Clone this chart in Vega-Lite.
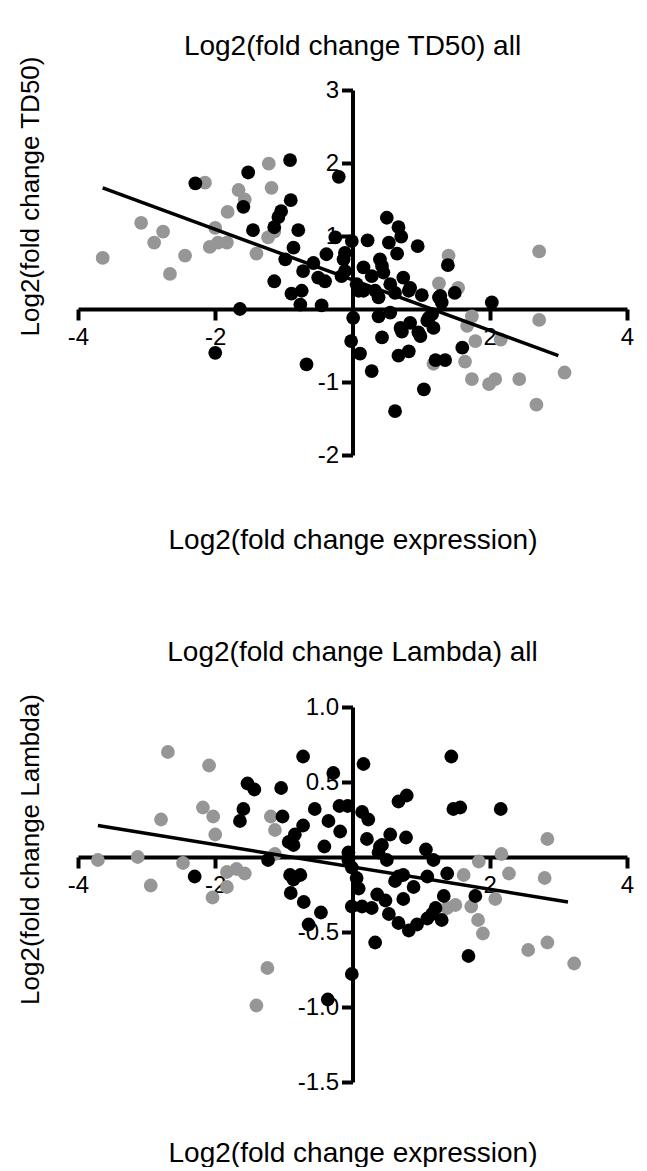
{
  "$schema": "https://vega.github.io/schema/vega-lite/v6.json",
  "autosize": {"type": "pad"},
  "padding": {"left": 17, "top": 32, "right": 0, "bottom": 0},
  "background": "white",
  "bounds": "flush",
  "spacing": 252,
  "resolve": {"scale": {"x": "independent", "y": "independent"}},
  "config": {
    "view": {"stroke": null},
    "font": "Liberation Sans",
    "axis": {
      "grid": false,
      "domainColor": "black",
      "domainWidth": 4,
      "tickColor": "black",
      "tickWidth": 4,
      "tickSize": 11,
      "labelFont": "Liberation Sans",
      "labelFontSize": 24,
      "labelColor": "black",
      "labelOverlap": false,
      "labelFlush": false,
      "labelExpr": "replace(datum.label, '\u2212', '-')",
      "titleFont": "Liberation Sans",
      "titleFontSize": 28,
      "titleFontWeight": "normal",
      "titleColor": "black"
    },
    "axisX": {"labelPadding": 5},
    "axisY": {"labelPadding": 3},
    "title": {"font": "Liberation Sans", "fontSize": 28, "fontWeight": "normal", "color": "black"}
  },
  "datasets": {
    "td50": [
      {"x": -3.64, "y": 0.70, "s": "no"}, {"x": -3.08, "y": 1.18, "s": "no"}, {"x": -2.76, "y": 1.06, "s": "no"},
      {"x": -2.89, "y": 0.91, "s": "no"}, {"x": -2.66, "y": 0.48, "s": "no"}, {"x": -2.44, "y": 0.73, "s": "no"},
      {"x": -2.15, "y": 1.73, "s": "no"}, {"x": -2.08, "y": 0.85, "s": "no"}, {"x": -2.00, "y": 1.11, "s": "no"},
      {"x": -1.96, "y": 0.91, "s": "no"}, {"x": -1.83, "y": 0.91, "s": "no"}, {"x": -1.82, "y": 1.33, "s": "no"},
      {"x": -1.66, "y": 1.63, "s": "no"}, {"x": -1.57, "y": 1.50, "s": "no"}, {"x": -1.40, "y": 0.76, "s": "no"},
      {"x": -1.22, "y": 1.99, "s": "no"}, {"x": -1.18, "y": 1.66, "s": "no"}, {"x": -1.23, "y": 0.98, "s": "no"},
      {"x": -1.14, "y": 1.06, "s": "no"}, {"x": 1.40, "y": 0.73, "s": "no"}, {"x": 1.26, "y": 0.35, "s": "no"},
      {"x": 1.54, "y": 0.29, "s": "no"}, {"x": 2.72, "y": 0.79, "s": "no"}, {"x": 1.74, "y": -0.10, "s": "no"},
      {"x": 1.67, "y": -0.23, "s": "no"}, {"x": 1.79, "y": -0.44, "s": "no"}, {"x": 2.16, "y": -0.42, "s": "no"},
      {"x": 2.72, "y": -0.15, "s": "no"}, {"x": 1.18, "y": -0.75, "s": "no"}, {"x": 1.64, "y": -0.72, "s": "no"},
      {"x": 1.74, "y": -0.96, "s": "no"}, {"x": 1.99, "y": -1.03, "s": "no"}, {"x": 2.08, "y": -0.96, "s": "no"},
      {"x": 2.43, "y": -0.96, "s": "no"}, {"x": 3.09, "y": -0.87, "s": "no"}, {"x": 2.68, "y": -1.31, "s": "no"},
      {"x": -2.29, "y": 1.72, "s": "yes"}, {"x": -1.52, "y": 1.87, "s": "yes"}, {"x": -0.91, "y": 2.04, "s": "yes"},
      {"x": -0.20, "y": 1.81, "s": "yes"}, {"x": -1.59, "y": 1.40, "s": "yes"}, {"x": -0.90, "y": 1.49, "s": "yes"},
      {"x": -1.04, "y": 1.34, "s": "yes"}, {"x": -1.08, "y": 1.26, "s": "yes"}, {"x": -1.14, "y": 1.12, "s": "yes"},
      {"x": -1.45, "y": 1.08, "s": "yes"}, {"x": -0.79, "y": 1.08, "s": "yes"}, {"x": -0.86, "y": 0.84, "s": "yes"},
      {"x": -0.98, "y": 0.68, "s": "yes"}, {"x": -1.14, "y": 0.38, "s": "yes"}, {"x": -0.72, "y": 0.52, "s": "yes"},
      {"x": -0.57, "y": 0.63, "s": "yes"}, {"x": -0.50, "y": 0.43, "s": "yes"}, {"x": -0.40, "y": 0.38, "s": "yes"},
      {"x": -0.89, "y": 0.21, "s": "yes"}, {"x": -0.74, "y": 0.25, "s": "yes"}, {"x": -0.76, "y": 0.06, "s": "yes"},
      {"x": -0.45, "y": 0.05, "s": "yes"}, {"x": -1.64, "y": 0.00, "s": "yes"}, {"x": -2.00, "y": -0.60, "s": "yes"},
      {"x": -0.67, "y": -0.76, "s": "yes"}, {"x": -0.38, "y": 0.75, "s": "yes"}, {"x": -0.25, "y": 0.98, "s": "yes"},
      {"x": -0.13, "y": 0.68, "s": "yes"}, {"x": -0.16, "y": 0.45, "s": "yes"}, {"x": -0.01, "y": 0.93, "s": "yes"},
      {"x": -0.11, "y": 0.77, "s": "yes"}, {"x": -0.11, "y": 0.52, "s": "yes"}, {"x": 0.50, "y": 1.25, "s": "yes"},
      {"x": 0.67, "y": 1.12, "s": "yes"}, {"x": 0.71, "y": 0.99, "s": "yes"}, {"x": 0.22, "y": 0.94, "s": "yes"},
      {"x": 0.53, "y": 0.91, "s": "yes"}, {"x": 0.65, "y": 0.76, "s": "yes"}, {"x": 0.95, "y": 0.86, "s": "yes"},
      {"x": 0.40, "y": 0.68, "s": "yes"}, {"x": 0.43, "y": 0.59, "s": "yes"}, {"x": 0.16, "y": 0.57, "s": "yes"},
      {"x": 0.74, "y": 0.43, "s": "yes"}, {"x": 0.84, "y": 0.29, "s": "yes"}, {"x": 1.01, "y": 0.19, "s": "yes"},
      {"x": 1.39, "y": 0.60, "s": "yes"}, {"x": 1.49, "y": 0.22, "s": "yes"}, {"x": 1.28, "y": 0.18, "s": "yes"},
      {"x": 2.03, "y": 0.09, "s": "yes"}, {"x": 0.09, "y": 0.25, "s": "yes"}, {"x": 0.45, "y": 0.50, "s": "yes"},
      {"x": 0.28, "y": 0.45, "s": "yes"}, {"x": 0.06, "y": 0.34, "s": "yes"}, {"x": 0.16, "y": 0.25, "s": "yes"},
      {"x": 0.33, "y": 0.25, "s": "yes"}, {"x": 0.38, "y": 0.16, "s": "yes"}, {"x": 0.55, "y": 0.34, "s": "yes"},
      {"x": 0.62, "y": 0.22, "s": "yes"}, {"x": 0.82, "y": 0.25, "s": "yes"}, {"x": 1.26, "y": 0.16, "s": "yes"},
      {"x": 1.30, "y": 0.09, "s": "yes"}, {"x": 0.01, "y": -0.12, "s": "yes"}, {"x": 0.38, "y": -0.10, "s": "yes"},
      {"x": 0.55, "y": -0.05, "s": "yes"}, {"x": 0.84, "y": -0.19, "s": "yes"}, {"x": 1.11, "y": -0.12, "s": "yes"},
      {"x": 0.72, "y": -0.31, "s": "yes"}, {"x": 0.99, "y": -0.37, "s": "yes"}, {"x": -0.02, "y": -0.44, "s": "yes"},
      {"x": 0.43, "y": -0.39, "s": "yes"}, {"x": 0.11, "y": -0.61, "s": "yes"}, {"x": 0.67, "y": -0.64, "s": "yes"},
      {"x": 0.82, "y": -0.58, "s": "yes"}, {"x": 1.60, "y": -0.53, "s": "yes"}, {"x": 1.21, "y": -0.70, "s": "yes"},
      {"x": 1.35, "y": -0.70, "s": "yes"}, {"x": 0.28, "y": -0.85, "s": "yes"}, {"x": 1.04, "y": -1.10, "s": "yes"},
      {"x": 0.62, "y": -1.40, "s": "yes"}, {"x": 0.70, "y": -0.26, "s": "yes"}, {"x": 0.96, "y": -0.32, "s": "yes"},
      {"x": 1.18, "y": -0.26, "s": "yes"}, {"x": 1.09, "y": -0.16, "s": "yes"}, {"x": 1.16, "y": -0.07, "s": "yes"}
    ],
    "td50fit": [{"x": -3.64, "y": 1.66}, {"x": 3.0, "y": -0.64}],
    "lambda": [
      {"x": -2.69, "y": 0.70, "s": "no"}, {"x": -2.09, "y": 0.61, "s": "no"}, {"x": -2.79, "y": 0.25, "s": "no"},
      {"x": -2.18, "y": 0.33, "s": "no"}, {"x": -2.03, "y": 0.27, "s": "no"}, {"x": -2.00, "y": 0.15, "s": "no"},
      {"x": -3.71, "y": -0.02, "s": "no"}, {"x": -3.13, "y": 0.00, "s": "no"}, {"x": -2.47, "y": -0.04, "s": "no"},
      {"x": -2.94, "y": -0.19, "s": "no"}, {"x": -1.83, "y": -0.10, "s": "no"}, {"x": -1.69, "y": -0.08, "s": "no"},
      {"x": -1.57, "y": -0.11, "s": "no"}, {"x": -1.83, "y": -0.20, "s": "no"}, {"x": -2.04, "y": -0.27, "s": "no"},
      {"x": -1.19, "y": 0.27, "s": "no"}, {"x": -1.13, "y": 0.18, "s": "no"}, {"x": -1.13, "y": 0.02, "s": "no"},
      {"x": -1.24, "y": -0.74, "s": "no"}, {"x": -1.40, "y": -0.99, "s": "no"}, {"x": 2.84, "y": 0.12, "s": "no"},
      {"x": 2.17, "y": 0.02, "s": "no"}, {"x": 1.84, "y": -0.03, "s": "no"}, {"x": 1.62, "y": -0.12, "s": "no"},
      {"x": 2.28, "y": -0.11, "s": "no"}, {"x": 2.80, "y": -0.14, "s": "no"}, {"x": 2.08, "y": -0.28, "s": "no"},
      {"x": 1.38, "y": -0.34, "s": "no"}, {"x": 1.50, "y": -0.32, "s": "no"}, {"x": 1.73, "y": -0.33, "s": "no"},
      {"x": 1.83, "y": -0.42, "s": "no"}, {"x": 1.90, "y": -0.51, "s": "no"}, {"x": 2.56, "y": -0.62, "s": "no"},
      {"x": 2.84, "y": -0.57, "s": "no"}, {"x": 3.23, "y": -0.71, "s": "no"},
      {"x": -0.72, "y": 0.67, "s": "yes"}, {"x": -0.28, "y": 0.56, "s": "yes"}, {"x": -1.53, "y": 0.49, "s": "yes"},
      {"x": -1.43, "y": 0.45, "s": "yes"}, {"x": -1.04, "y": 0.46, "s": "yes"}, {"x": -1.59, "y": 0.32, "s": "yes"},
      {"x": -1.64, "y": 0.24, "s": "yes"}, {"x": -1.02, "y": 0.27, "s": "yes"}, {"x": -0.55, "y": 0.32, "s": "yes"},
      {"x": -0.19, "y": 0.34, "s": "yes"}, {"x": -0.07, "y": 0.34, "s": "yes"}, {"x": -0.35, "y": 0.24, "s": "yes"},
      {"x": -0.18, "y": 0.17, "s": "yes"}, {"x": -0.72, "y": 0.21, "s": "yes"}, {"x": -0.84, "y": 0.15, "s": "yes"},
      {"x": -0.93, "y": 0.10, "s": "yes"}, {"x": -0.86, "y": 0.08, "s": "yes"}, {"x": -0.41, "y": 0.07, "s": "yes"},
      {"x": -1.23, "y": -0.02, "s": "yes"}, {"x": -2.30, "y": -0.13, "s": "yes"}, {"x": -0.91, "y": -0.12, "s": "yes"},
      {"x": -0.76, "y": -0.12, "s": "yes"}, {"x": -0.86, "y": -0.15, "s": "yes"}, {"x": -0.90, "y": -0.24, "s": "yes"},
      {"x": -0.71, "y": -0.30, "s": "yes"}, {"x": -0.46, "y": -0.37, "s": "yes"}, {"x": -0.64, "y": -0.45, "s": "yes"},
      {"x": -0.01, "y": -0.33, "s": "yes"}, {"x": -0.01, "y": -0.78, "s": "yes"}, {"x": -0.36, "y": -0.95, "s": "yes"},
      {"x": -0.06, "y": -0.02, "s": "yes"}, {"x": -0.01, "y": -0.07, "s": "yes"}, {"x": 1.44, "y": 0.67, "s": "yes"},
      {"x": 0.16, "y": 0.62, "s": "yes"}, {"x": 0.67, "y": 0.37, "s": "yes"}, {"x": 0.79, "y": 0.41, "s": "yes"},
      {"x": 1.47, "y": 0.32, "s": "yes"}, {"x": 1.57, "y": 0.33, "s": "yes"}, {"x": 2.16, "y": 0.32, "s": "yes"},
      {"x": 0.14, "y": 0.30, "s": "yes"}, {"x": 0.23, "y": 0.25, "s": "yes"}, {"x": 0.21, "y": 0.12, "s": "yes"},
      {"x": 0.43, "y": 0.08, "s": "yes"}, {"x": 0.55, "y": 0.15, "s": "yes"}, {"x": 0.78, "y": 0.13, "s": "yes"},
      {"x": 0.38, "y": 0.03, "s": "yes"}, {"x": 0.50, "y": -0.02, "s": "yes"}, {"x": -0.06, "y": 0.03, "s": "yes"},
      {"x": 1.07, "y": 0.05, "s": "yes"}, {"x": 1.18, "y": -0.02, "s": "yes"}, {"x": 0.06, "y": -0.14, "s": "yes"},
      {"x": 0.09, "y": -0.21, "s": "yes"}, {"x": 0.62, "y": -0.16, "s": "yes"}, {"x": 0.74, "y": -0.12, "s": "yes"},
      {"x": 0.89, "y": -0.20, "s": "yes"}, {"x": 1.09, "y": -0.13, "s": "yes"}, {"x": 1.38, "y": -0.11, "s": "yes"},
      {"x": 0.74, "y": -0.28, "s": "yes"}, {"x": 0.36, "y": -0.25, "s": "yes"}, {"x": 0.48, "y": -0.29, "s": "yes"},
      {"x": 0.14, "y": -0.33, "s": "yes"}, {"x": 0.28, "y": -0.34, "s": "yes"}, {"x": 0.53, "y": -0.38, "s": "yes"},
      {"x": 0.67, "y": -0.44, "s": "yes"}, {"x": 0.82, "y": -0.49, "s": "yes"}, {"x": 0.94, "y": -0.45, "s": "yes"},
      {"x": 1.09, "y": -0.41, "s": "yes"}, {"x": 1.21, "y": -0.34, "s": "yes"}, {"x": 1.33, "y": -0.26, "s": "yes"},
      {"x": 1.30, "y": -0.42, "s": "yes"}, {"x": 1.79, "y": -0.26, "s": "yes"}, {"x": 0.33, "y": -0.57, "s": "yes"},
      {"x": 1.69, "y": -0.66, "s": "yes"}, {"x": 1.16, "y": -0.38, "s": "yes"}, {"x": 0.40, "y": 0.07, "s": "yes"},
      {"x": 0.67, "y": -0.13, "s": "yes"}
    ],
    "lambdafit": [{"x": -3.71, "y": 0.21}, {"x": 3.14, "y": -0.30}]
  },
  "vconcat": [
    {
      "width": 549,
      "height": 365,
      "title": {"text": "Log2(fold change TD50) all", "frame": "group", "anchor": "middle", "baseline": "middle", "offset": -19},
      "encoding": {
        "x": {"field": "x", "type": "quantitative",
          "scale": {"domain": [-4, 4], "nice": false, "zero": false},
          "axis": {"orient": "bottom", "offset": -146, "values": [-4, -2, 2, 4],
            "title": "Log2(fold change expression)", "titleY": 231, "titleBaseline": "middle"}},
        "y": {"field": "y", "type": "quantitative",
          "scale": {"domain": [-2, 3], "nice": false, "zero": false},
          "axis": {"orient": "left", "offset": -274.5, "values": [-2, -1, 1, 2, 3],
            "title": "Log2(fold change TD50)", "titleX": -322, "titleY": 106, "titleFontSize": 26,
            "titleAngle": -90, "titleBaseline": "middle", "titleAlign": "center"}}
      },
      "layer": [
        {"data": {"name": "td50"}, "mark": {"type": "circle", "size": 190, "opacity": 1},
          "encoding": {"color": {"field": "s", "type": "nominal",
            "scale": {"domain": ["yes", "no"], "range": ["#000000", "#969696"]}, "legend": null}}},
        {"data": {"name": "td50fit"}, "mark": {"type": "line", "color": "black", "strokeWidth": 3.5}}
      ]
    },
    {
      "width": 549,
      "height": 375,
      "title": {"text": "Log2(fold change Lambda) all", "frame": "group", "anchor": "middle", "baseline": "middle", "offset": 13},
      "encoding": {
        "x": {"field": "x", "type": "quantitative",
          "scale": {"domain": [-4, 4], "nice": false, "zero": false},
          "axis": {"orient": "bottom", "offset": -225, "values": [-4, -2, 2, 4],
            "title": "Log2(fold change expression)", "titleY": 296, "titleBaseline": "middle"}},
        "y": {"field": "y", "type": "quantitative",
          "scale": {"domain": [-1.5, 1], "nice": false, "zero": false},
          "axis": {"orient": "left", "offset": -274.5, "values": [-1.5, -1, -0.5, 0.5, 1], "format": ".1f",
            "title": "Log2(fold change Lambda)", "titleX": -322, "titleY": 142, "titleFontSize": 26,
            "titleAngle": -90, "titleBaseline": "middle", "titleAlign": "center"}}
      },
      "layer": [
        {"data": {"name": "lambda"}, "mark": {"type": "circle", "size": 190, "opacity": 1},
          "encoding": {"color": {"field": "s", "type": "nominal",
            "scale": {"domain": ["yes", "no"], "range": ["#000000", "#969696"]}, "legend": null}}},
        {"data": {"name": "lambdafit"}, "mark": {"type": "line", "color": "black", "strokeWidth": 3.5}}
      ]
    }
  ]
}
